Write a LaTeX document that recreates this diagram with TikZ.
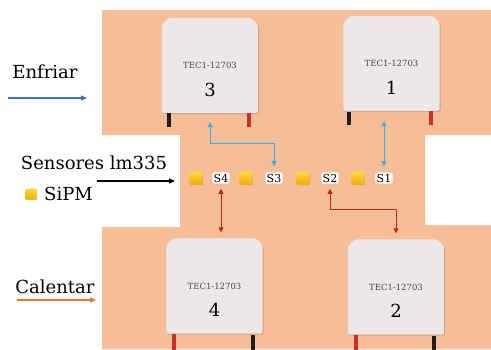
\documentclass[tikz,border=0pt]{standalone}
\usepackage{fontspec}
\setmainfont{DejaVu Serif}
\usetikzlibrary{arrows.meta,shadows,calc}

\definecolor{peach}{HTML}{F5BE98}
\definecolor{tecface}{HTML}{EDE8E7}
\definecolor{tecshade}{HTML}{9A7A66}
\definecolor{coolblue}{HTML}{3BAEE3}
\definecolor{hotred}{HTML}{C4231E}
\definecolor{chillblue}{HTML}{4472C4}
\definecolor{warmorange}{HTML}{E8762D}
\definecolor{goldtop}{HTML}{FFD84A}
\definecolor{goldbot}{HTML}{F2AE00}
\definecolor{wirered}{HTML}{C8302C}
\definecolor{wireblack}{HTML}{1E1E1E}

\begin{document}
\begin{tikzpicture}[x=1pt,y=-1pt,
  tec/.style={rectangle, minimum width=96pt, minimum height=95pt, inner sep=0pt},
  tecbody/.style={fill=tecface, rounded corners=2.5pt,
    drop shadow={shadow xshift=0.8pt, shadow yshift=-1pt, fill=tecshade, opacity=0.45}},
  teclabel/.style={font=\fontsize{8.5}{9}\selectfont, text=black!72, inner sep=0pt},
  tecnum/.style={font=\fontsize{18}{18}\selectfont, inner sep=0pt},
  sipm/.style={minimum size=13pt, inner sep=0pt, rounded corners=1pt,
    top color=goldtop, bottom color=goldbot,
    drop shadow={shadow xshift=0.6pt, shadow yshift=-0.6pt, fill=tecshade, opacity=0.4}},
  slabel/.style={fill=white, rounded corners=1.5pt, inner sep=1.4pt,
    font=\fontsize{11}{11}\selectfont},
  lefttext/.style={font=\fontsize{18}{22}\selectfont, inner sep=0pt},
  legendarrow/.style={line width=1.1pt, -{Triangle[length=6pt,width=5pt]}},
  coolarrow/.style={draw=coolblue, line width=0.9pt,
    {Triangle[length=5pt,width=5pt]}-{Triangle[length=5pt,width=5pt]}},
  hotarrow/.style={draw=hotred, line width=0.9pt,
    {Triangle[length=5pt,width=5pt]}-{Triangle[length=5pt,width=5pt]}}
]
\useasboundingbox (0,0) rectangle (491,349);

% cold plate / hot plate outline
\fill[peach] (102,10) -- (491,10) -- (491,135) -- (425,135) -- (425,225)
  -- (491,225) -- (491,349) -- (102,349) -- (102,227) -- (180,227)
  -- (180,135) -- (102,135) -- cycle;

% Peltier modules: frames, then bodies with cut top corners, then markings
\node[tec] (tec3) at (210,65.5) {};
\node[tec] (tec1) at (391.5,63.5) {};
\node[tec] (tec4) at (214.5,286) {};
\node[tec] (tec2) at (396,287) {};

\foreach \m/\n in {tec3/3, tec1/1, tec4/4, tec2/2}{
  \path[tecbody] ($(\m.north west)+(0,7)$) -- ($(\m.north west)+(7,0)$)
    -- ($(\m.north east)+(-7,0)$) -- ($(\m.north east)+(0,7)$)
    -- (\m.south east) -- (\m.south west) -- cycle;
  \node[teclabel] (\m-type) at (\m.center) {TEC1-12703};
  \node[tecnum] (\m-num) at ($(\m.center)+(0,24)$) {\n};
}

% module leads
\fill[wireblack] ($(tec3.south west)+(5,0)$) rectangle ++(4,14);
\fill[wirered]   ($(tec3.south east)+(-11,0)$) rectangle ++(4,14);
\fill[wireblack] ($(tec1.south west)+(4,1)$) rectangle ++(4,13);
\fill[wirered]   ($(tec1.south east)+(-11,0)$) rectangle ++(4,14);
\fill[wirered]   ($(tec4.south west)+(6,0)$) rectangle ++(4,16);
\fill[wireblack] ($(tec4.south east)+(-12,1)$) rectangle ++(4,15);
\fill[wirered]   ($(tec2.south west)+(6,0)$) rectangle ++(4,16);
\fill[wireblack] ($(tec2.south east)+(-12,1)$) rectangle ++(4,15);

% SiPMs and lm335 sensors
\node[sipm]   (p4) at (196,178) {};
\node[slabel] (s4) at (221,178) {S4};
\node[sipm]   (p3) at (246,178) {};
\node[slabel] (s3) at (274,178) {S3};
\node[sipm]   (p2) at (303,178) {};
\node[slabel] (s2) at (330,178) {S2};
\node[sipm]   (p1) at (358,178) {};
\node[slabel] (s1) at (384,178) {S1};

% sensor to module links
\draw[coolarrow, shorten <=9pt, shorten >=6pt] (tec3.south) -- ++(0,30) -| (s3.north);
\draw[coolarrow, shorten <=6pt, shorten >=10pt] (s1.north) -- (s1.north |- tec1.south);
\draw[hotarrow, shorten <=5pt, shorten >=6pt] (s4.south) -- (s4.south |- tec4.north);
\draw[hotarrow, shorten <=5pt, shorten >=6pt] (s2.south) -- ++(0,26) -| (tec2.north);

% legend
\node[lefttext] (enfriar) at (45,72) {Enfriar};
\coordinate (enf-a) at (8,98);
\coordinate (enf-b) at (87,98);
\draw[legendarrow, chillblue] (enf-a) -- (enf-b);

\node[lefttext] (sensores) at (94,163) {Sensores lm335};
\coordinate (sens-a) at (97,181);
\coordinate (sens-b) at (175,181);
\draw[legendarrow, black] (sens-a) -- (sens-b);

\node[sipm, minimum size=11pt] (key) at (31,194) {};
\node[lefttext, anchor=west] (keytext) at (44,194) {SiPM};

\node[lefttext] (calentar) at (55,287) {Calentar};
\coordinate (cal-a) at (17,300);
\coordinate (cal-b) at (96,300);
\draw[legendarrow, warmorange] (cal-a) -- (cal-b);
\end{tikzpicture}
\end{document}
